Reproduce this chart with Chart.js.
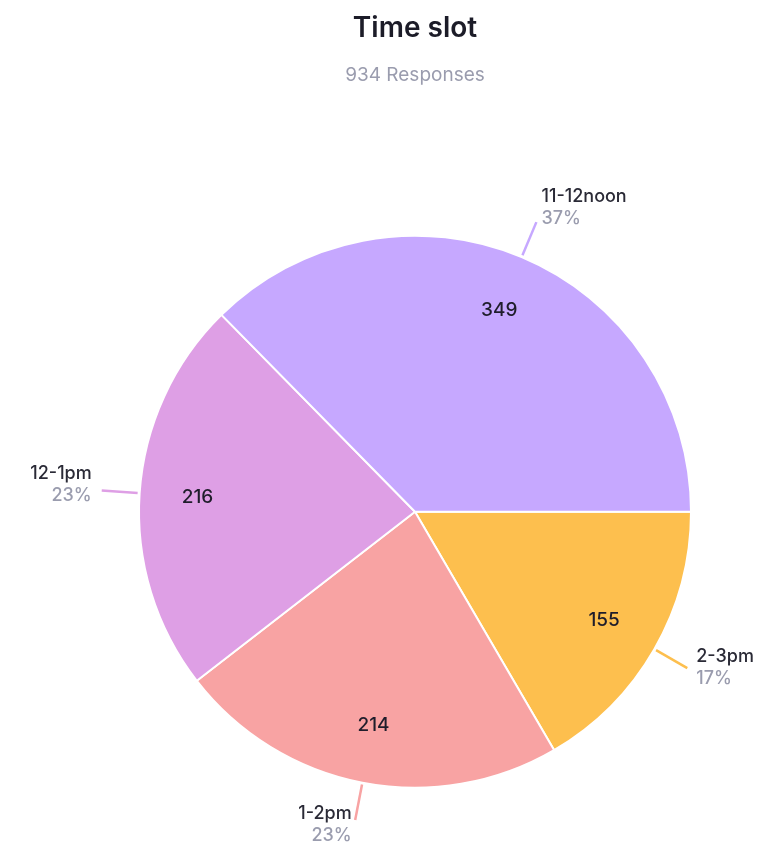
<!DOCTYPE html>
<html>
<head>
<meta charset="utf-8">
<title>Time slot</title>
<script src="https://cdn.jsdelivr.net/npm/chart.js@4/dist/chart.umd.min.js"></script>
<style>
    html, body { margin: 0; padding: 0; background: #ffffff; }
    #chartBox { position: relative; width: 769px; height: 846px; }
</style>
</head>
<body>
<div id="chartBox"><canvas id="timeSlotChart"></canvas></div>
<script>
// グラフのデータ（3時の位置から時計回りの順）
const categories = ['2-3pm', '1-2pm', '12-1pm', '11-12noon'];
const responses = [155, 214, 216, 349];
const sliceColors = ['#FDBF4E', '#F8A3A3', '#DE9FE5', '#C6A8FF'];
const chartTitle = 'Time slot';
const totalResponses = 934;

// 値ラベルと引き出し線を描くプラグイン
const sliceLabelPlugin = {
    id: 'sliceLabels',
    afterDatasetsDraw(chart) {
        const ctx = chart.ctx;
        const meta = chart.getDatasetMeta(0);
        const total = responses.reduce((a, b) => a + b, 0);
        ctx.save();
        meta.data.forEach(function(arc, i) {
            const p = arc.getProps(['x', 'y', 'startAngle', 'endAngle', 'outerRadius'], true);
            const mid = (p.startAngle + p.endAngle) / 2; // スライスの中央角
            const cos = Math.cos(mid);
            const sin = Math.sin(mid);

            // スライス内の数値
            ctx.fillStyle = '#1f1d2b';
            ctx.font = '500 19px Inter, "Noto Sans", sans-serif';
            ctx.textAlign = 'center';
            ctx.textBaseline = 'middle';
            const rIn = p.outerRadius * 0.79;
            ctx.fillText(String(responses[i]), p.x + cos * rIn, p.y + sin * rIn);

            // 引き出し線
            const r1 = p.outerRadius + 2;
            const r2 = p.outerRadius + 38;
            const ex = p.x + cos * r2;
            const ey = p.y + sin * r2;
            ctx.strokeStyle = sliceColors[i];
            ctx.lineWidth = 2.5;
            ctx.beginPath();
            ctx.moveTo(p.x + cos * r1, p.y + sin * r1);
            ctx.lineTo(ex, ey);
            ctx.stroke();

            // カテゴリ名とパーセント
            const right = cos >= 0;
            const tx = ex + (right ? 1 : -1) * (2 + 8 * Math.abs(cos));
            const cy = ey - 5 + 10 * sin;
            ctx.textAlign = right ? 'left' : 'right';
            ctx.font = '500 18px Inter, "Noto Sans", sans-serif';
            ctx.fillStyle = '#2a2a36';
            ctx.fillText(categories[i], tx, cy - 11);
            ctx.fillStyle = '#9a9cae';
            ctx.fillText(Math.round(responses[i] / total * 100) + '%', tx, cy + 11);
        });
        ctx.restore();
    }
};

const ctx = document.getElementById('timeSlotChart').getContext('2d');
new Chart(ctx, {
    type: 'pie',
    data: {
        labels: categories,
        datasets: [{
            data: responses,
            backgroundColor: sliceColors,
            borderColor: '#ffffff',
            borderWidth: 2
        }]
    },
    options: {
        responsive: true,
        maintainAspectRatio: false,
        animation: false,
        rotation: 90, // 3時の位置から開始
        layout: {
            padding: { left: 138, right: 77, top: 0, bottom: 53 }
        },
        plugins: {
            legend: { display: false },
            tooltip: { enabled: false },
            title: {
                display: true,
                text: chartTitle,
                color: '#1c1c28',
                font: { family: 'Inter, "Noto Sans", sans-serif', size: 28, weight: '600' },
                padding: { top: 12, bottom: 8 }
            },
            subtitle: {
                display: true,
                text: totalResponses + ' Responses',
                color: '#9a9cae',
                font: { family: 'Inter, "Noto Sans", sans-serif', size: 19, weight: '400' },
                padding: { top: 10, bottom: 144 }
            }
        }
    },
    plugins: [sliceLabelPlugin]
});
</script>
</body>
</html>
